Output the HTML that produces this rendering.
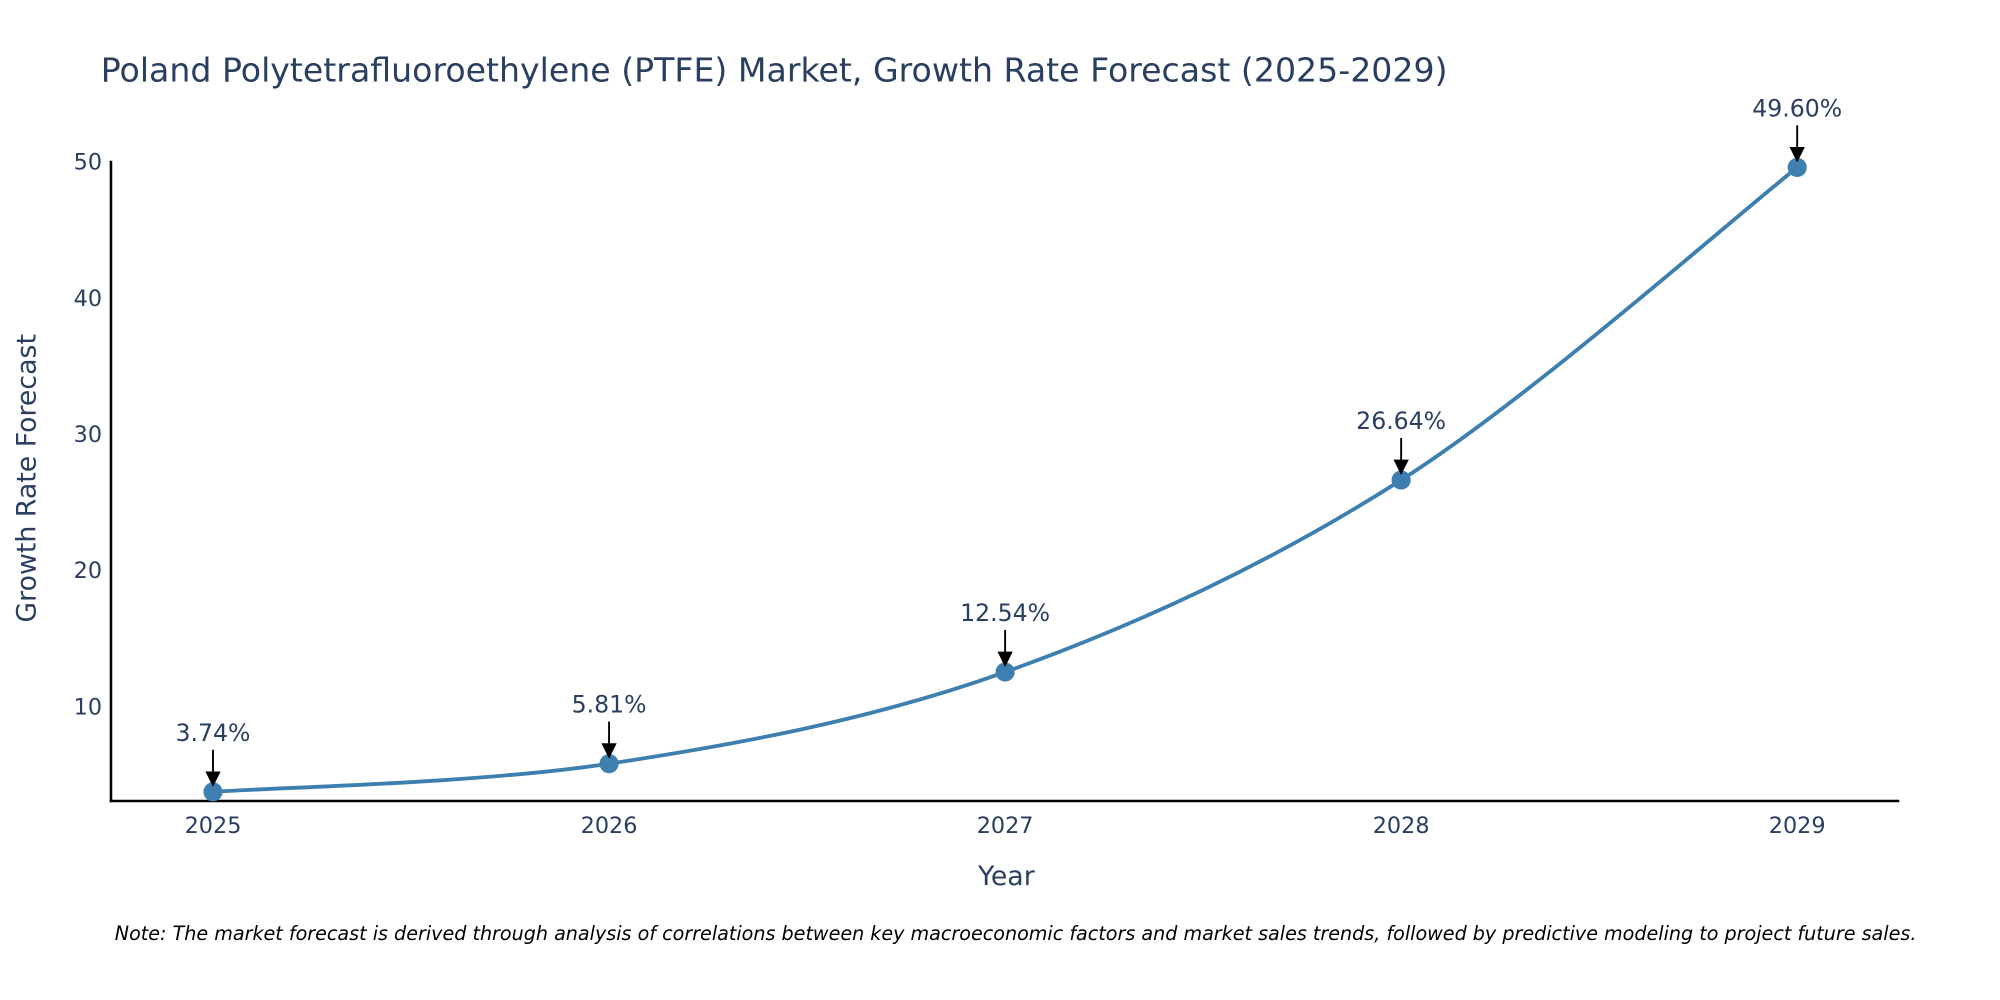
<!DOCTYPE html>
<html><head><meta charset="utf-8"><style>
html,body{margin:0;padding:0;background:#fff;}
svg{display:block;font-family:"DejaVu Sans","Liberation Sans",sans-serif;}
</style></head><body>
<svg id="chart" width="2000" height="1000" viewBox="0 0 1568 784" xmlns="http://www.w3.org/2000/svg">
<rect width="1568" height="784" fill="#fff"/>
<text x="79" y="64" font-size="26" fill="#2a3f5f">Poland Polytetrafluoroethylene (PTFE) Market, Growth Rate Forecast (2025-2029)</text>
<g id="yticks"></g>
<g id="xticks"></g>
<line x1="87" y1="126" x2="87" y2="629" stroke="#000" stroke-width="2"/>
<line x1="86" y1="628" x2="1489" y2="628" stroke="#000" stroke-width="2"/>
<text transform="translate(28,375) rotate(-90)" text-anchor="middle" font-size="21" fill="#2a3f5f">Growth Rate Forecast</text>
<text x="789" y="694" text-anchor="middle" font-size="21" fill="#2a3f5f">Year</text>
<g id="series"></g>
<g id="annots"></g>
<text x="90" y="737" font-size="15" font-style="italic" fill="#000">Note: The market forecast is derived through analysis of correlations between key macroeconomic factors and market sales trends, followed by predictive modeling to project future sales.</text>
</svg>
<script>
const years = [2025, 2026, 2027, 2028, 2029];
const values = [3.74, 5.81, 12.54, 26.64, 49.60];
const valueLabels = ["3.74%", "5.81%", "12.54%", "26.64%", "49.60%"];
const yTickValues = [10, 20, 30, 40, 50];

const NS = "http://www.w3.org/2000/svg";
function xScale(yr){ return 167 + (yr - 2025) * 310.5; }
function yScale(v){ return 554 - (v - 10) * 10.675; }
function mk(tag, attrs, parent){
  const e = document.createElementNS(NS, tag);
  for (const k in attrs) e.setAttribute(k, attrs[k]);
  parent.appendChild(e); return e;
}
const yt = document.getElementById('yticks');
yTickValues.forEach(v => {
  const t = mk('text', {x: 80, y: yScale(v) + 6, 'text-anchor': 'end', 'font-size': 17.5, fill: '#2a3f5f'}, yt);
  
  
  t.textContent = v;
});
const xt = document.getElementById('xticks');
years.forEach(yr => {
  const t = mk('text', {x: xScale(yr), y: 653, 'text-anchor': 'middle', 'font-size': 17.5, fill: '#2a3f5f'}, xt);
  
  
  t.textContent = yr;
});
const pts = years.map((yr, i) => [xScale(yr), yScale(values[i])]);
let d = 'M' + pts[0][0] + ',' + pts[0][1];
for (let i = 0; i < pts.length - 1; i++) {
  const p0 = pts[Math.max(0, i - 1)], p1 = pts[i], p2 = pts[i + 1], p3 = pts[Math.min(pts.length - 1, i + 2)];
  const s = 6;
  const c1 = [p1[0] + (p2[0] - p0[0]) / s, p1[1] + (p2[1] - p0[1]) / s];
  const c2 = [p2[0] - (p3[0] - p1[0]) / s, p2[1] - (p3[1] - p1[1]) / s];
  d += ' C' + c1.join(',') + ' ' + c2.join(',') + ' ' + p2.join(',');
}
const ser = document.getElementById('series');
const line = mk('path', {d: d, fill: 'none', stroke: '#3d7fae', 'stroke-width': 3}, ser);


const an = document.getElementById('annots');
pts.forEach((p, i) => {
  const c = mk('circle', {cx: p[0], cy: p[1], r: 7.5, fill: '#3d7fae'}, ser);
  
  
  const l = mk('line', {x1: p[0], y1: p[1] - 33, x2: p[0], y2: p[1] - 14, stroke: '#000', 'stroke-width': 1.5}, an);
  
  
  const h = mk('path', {d: 'M' + (p[0] - 6) + ',' + (p[1] - 16) + ' L' + (p[0] + 6) + ',' + (p[1] - 16) + ' L' + p[0] + ',' + (p[1] - 4) + ' Z', fill: '#000'}, an);
  
  
  const t = mk('text', {x: p[0], y: p[1] - 40, 'text-anchor': 'middle', 'font-size': 18.5, fill: '#2a3f5f'}, an);
  
  
  t.textContent = valueLabels[i];
});
</script>
</body></html>
